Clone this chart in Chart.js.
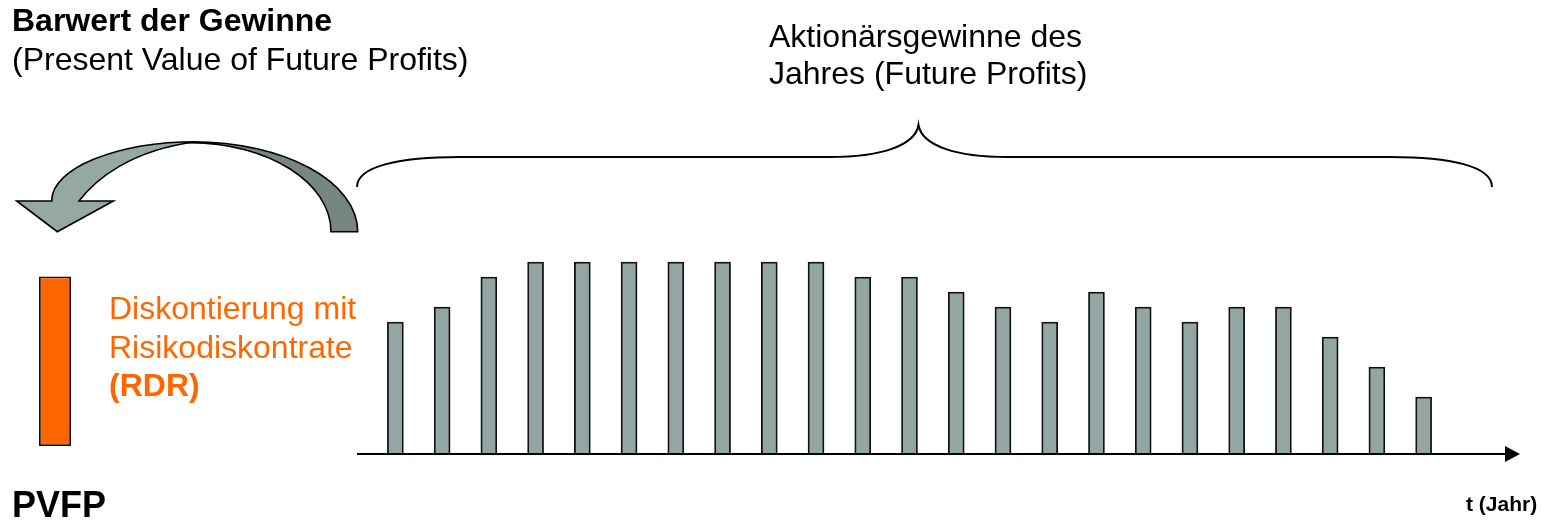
<!DOCTYPE html>
<html>
<head>
  <meta charset="utf-8">
  <title>PVFP</title>
  <script src="https://cdn.jsdelivr.net/npm/chart.js@4.4.0/dist/chart.umd.min.js"></script>
  <style>
    body { margin: 0; background: #fff; }
    .stage { position: relative; width: 1544px; height: 522px; overflow: hidden; }
    .stage canvas { position: absolute; left: 0; top: 0; }
    .txt {
      position: absolute;
      white-space: nowrap;
      font-family: "Liberation Sans", Arial, sans-serif;
      font-size: 32px;
      line-height: 32px;
      color: #000;
    }
    .b { font-weight: bold; }
    .orange { color: #ff6600; }
  </style>
</head>
<body>
<div class="stage">
  <canvas id="pvfpChart" width="1544" height="522"></canvas>
  <canvas id="profitChart" width="1544" height="522"></canvas>

  <div class="txt b" style="left:12px; top:4px;">Barwert der Gewinne</div>
  <div class="txt" style="left:12px; top:43px;">(Present Value of Future Profits)</div>

  <div class="txt" style="left:769px; top:20px;">Aktionärsgewinne des</div>
  <div class="txt" style="left:769px; top:57px;">Jahres (Future Profits)</div>

  <div class="txt orange" style="left:109px; top:292px;">Diskontierung mit</div>
  <div class="txt orange" style="left:109px; top:331px;">Risikodiskontrate</div>
  <div class="txt orange b" style="left:109px; top:369px;">(RDR)</div>

  <div class="txt b" style="left:12px; top:487px; font-size:36px; line-height:36px;">PVFP</div>
  <div class="txt b" style="left:1466px; top:493px; font-size:21px; line-height:21px;">t (Jahr)</div>
</div>

<script>
  // yearly shareholder profits (schematic units)
  const years = ['1', '2', '3', '4', '5', '6', '7', '8', '9', '10', '11', '12',
                 '13', '14', '15', '16', '17', '18', '19', '20', '21', '22', '23'];
  const profits = [9, 10, 12, 13, 13, 13, 13, 13, 13, 13, 12, 12,
                   11, 10, 9, 11, 10, 9, 10, 10, 8, 6, 4];

  // discounted value of all the profits
  const pvfpLabels = ['PVFP'];
  const pvfpValues = [11.3];

  const yMin = 0.2;
  const yMax = 14;

  // time axis, brace over the profits and the curved discounting arrow
  const decorations = {
    id: 'decorations',
    afterDraw(chart) {
      const ctx = chart.ctx;
      ctx.save();

      // curved arrow, back part
      ctx.lineWidth = 1.6;
      ctx.strokeStyle = '#000';
      ctx.lineJoin = 'miter';
      ctx.beginPath();
      ctx.moveTo(192, 141.8);
      ctx.bezierCurveTo(285, 141.7, 357.7, 182, 357.7, 231.7);
      ctx.lineTo(331, 231.7);
      ctx.bezierCurveTo(331, 182.6, 268, 142.7, 190, 142.7);
      ctx.closePath();
      ctx.fillStyle = '#77877f';
      ctx.fill();
      ctx.stroke();

      // curved arrow, front part with head
      ctx.beginPath();
      ctx.moveTo(51.7, 201);
      ctx.bezierCurveTo(51.7, 168.3, 116.7, 141.7, 196.7, 141.7);
      ctx.bezierCurveTo(130, 150, 95, 180, 79, 201);
      ctx.lineTo(113.3, 201);
      ctx.lineTo(57.3, 231.7);
      ctx.lineTo(16.7, 201);
      ctx.closePath();
      ctx.fillStyle = '#96a8a3';
      ctx.fill();
      ctx.stroke();

      // brace
      ctx.lineWidth = 2;
      ctx.beginPath();
      ctx.moveTo(357, 187);
      ctx.bezierCurveTo(357, 166, 400, 157, 460, 157);
      ctx.lineTo(830, 157);
      ctx.bezierCurveTo(880, 157, 915, 146, 918.5, 125);
      ctx.bezierCurveTo(922, 146, 957, 157, 1007, 157);
      ctx.lineTo(1390, 157);
      ctx.bezierCurveTo(1450, 157, 1492, 166, 1492, 187);
      ctx.stroke();

      // time axis
      const yBase = chart.scales.y.bottom;
      ctx.lineWidth = 2;
      ctx.beginPath();
      ctx.moveTo(357, yBase);
      ctx.lineTo(1508, yBase);
      ctx.stroke();
      ctx.beginPath();
      ctx.moveTo(1505, yBase - 8);
      ctx.lineTo(1520, yBase);
      ctx.lineTo(1505, yBase + 8);
      ctx.closePath();
      ctx.fillStyle = '#000';
      ctx.fill();

      ctx.restore();
    }
  };

  new Chart('profitChart', {
    type: 'bar',
    data: {
      labels: years,
      datasets: [{
        data: profits,
        backgroundColor: '#94a6a3',
        borderColor: '#111',
        borderWidth: 1.8,
        barThickness: 16
      }]
    },
    options: {
      responsive: false,
      animation: false,
      layout: { padding: { left: 372, right: 97, top: 247, bottom: 68 } },
      plugins: { legend: { display: false }, tooltip: { enabled: false } },
      scales: {
        x: { display: false },
        y: { display: false, min: yMin, max: yMax }
      }
    },
    plugins: [decorations]
  });

  new Chart('pvfpChart', {
    type: 'bar',
    data: {
      labels: pvfpLabels,
      datasets: [{
        data: pvfpValues,
        backgroundColor: '#ff6600',
        borderColor: '#111',
        borderWidth: { top: 1.8, right: 1.8, bottom: 1.8, left: 1.8 },
        borderSkipped: false,
        inflateAmount: 0,
        clip: false,
        barThickness: 32
      }]
    },
    options: {
      responsive: false,
      animation: false,
      layout: { padding: { left: 39, right: 1473, top: 236, bottom: 79 } },
      plugins: { legend: { display: false }, tooltip: { enabled: false } },
      scales: {
        x: { display: false },
        y: { display: false, min: yMin, max: yMax }
      }
    }
  });
</script>
</body>
</html>
